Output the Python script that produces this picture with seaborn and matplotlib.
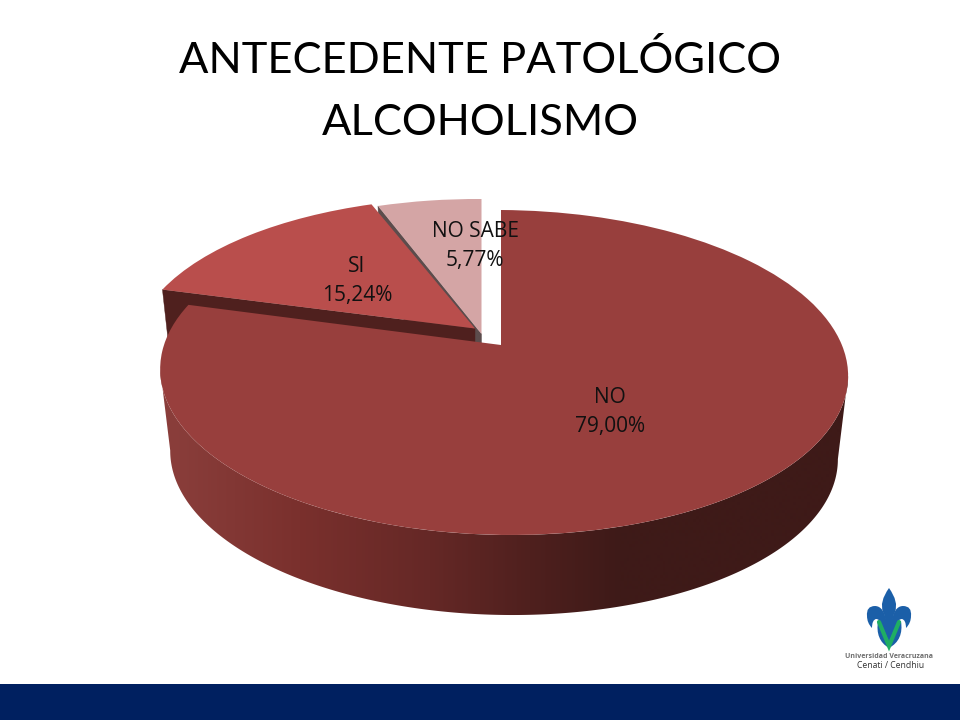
import numpy as np
import matplotlib
matplotlib.use("Agg")
import matplotlib.pyplot as plt
from matplotlib.transforms import Transform
from matplotlib.patches import PathPatch, Rectangle, Polygon
from matplotlib.path import Path
from matplotlib.colors import to_rgb
import seaborn as sns

# ---- data ----
categories = ["NO", "SI", "NO SABE"]
values = [79.00, 15.24, 5.77]
colors = ["#983F3D", "#B94E4C", "#D4A5A5"]
title_lines = ["ANTECEDENTE PATOLÓGICO", "ALCOHOLISMO"]

# ---- layout (pixels) ----
K, M = 0.169, -0.009          # perspective
TOP = dict(R=339.0, y0=345.0, a=-99.5)
LOW = dict(R=329.0, y0=428.0, a=-83.0)
SHIFTS = [(0.0, 0.0), (-26.0, -16.5), (-19.5, -11.0)]
V_SCALE = [1.0, 0.97, 1.0]
CX = 501.0
LABEL_POS = [(610, 412), (357, 281), (475, 246)]


def project(u, v, R, y0, a, dx=0.0, dy=0.0, vs=1.0):
    w = 1 + K * v + M * u
    return CX + dx + R * u / w, dy + y0 + vs * ((y0 + a * v) / w - y0)


class Persp(Transform):
    input_dims = output_dims = 2
    is_affine = False
    has_inverse = False

    def __init__(self, dx, dy, vs):
        super().__init__()
        self.dx, self.dy, self.vs = dx, dy, vs

    def transform_non_affine(self, pts):
        pts = np.asarray(pts, float)
        x, y = project(pts[:, 0], pts[:, 1], dx=self.dx, dy=self.dy, vs=self.vs, **TOP)
        return np.column_stack([x, y])


def rim(theta_deg, spec, shift=(0.0, 0.0), vs=1.0):
    t = np.radians(theta_deg)
    return project(np.cos(t), np.sin(t), dx=shift[0], dy=shift[1], vs=vs, **spec)


sns.set_theme(style="white")
plt.rcParams["font.family"] = ["Open Sans", "DejaVu Sans"]

fig = plt.figure(figsize=(9.6, 7.2), dpi=100, facecolor="white")
ax = fig.add_axes([0, 0, 1, 1])

wedges, _ = ax.pie(values, colors=colors, startangle=90, counterclock=False,
                   wedgeprops=dict(linewidth=0))

for w, (dx, dy), vs, z in zip(wedges, SHIFTS, V_SCALE, [10, 6, 4]):
    w.set_transform(Persp(dx, dy, vs) + ax.transData)
    w.set_zorder(z)
    w.set_clip_on(False)

# slice boundary angles (clockwise from the top)
shares = np.array(values) / np.sum(values)
bounds = 90 - 360 * np.concatenate([[0], np.cumsum(shares)])


def wall(theta, shift, vs, color, z):
    xt, yt = rim(theta, TOP, shift, vs)
    xl, yl = rim(theta, LOW, shift, vs)
    tip_t = project(0, 0, dx=shift[0], dy=shift[1], **TOP)
    tip_l = project(0, 0, dx=shift[0], dy=shift[1], **LOW)
    ax.add_patch(Polygon([(xt, yt), tip_t, tip_l, (xl, yl)], closed=True,
                         fc=color, ec=color, lw=0.3, zorder=z))


# cut walls of the pulled-out slices
wall(bounds[2], SHIFTS[2], V_SCALE[2], "#5C4C4C", 3)
wall(bounds[1], SHIFTS[1], V_SCALE[1], "#4F201E", 5)

# shaded outer wall of the large slice: one gradient clipped to its outline
grad_x = [170, 300, 430, 530, 620, 860]
grad_c = np.array([to_rgb(c) for c in
                   ["#8A3E3B", "#7A302D", "#652826", "#4F201E", "#3E1A18", "#3E1A18"]])
px = np.arange(150, 861)
strip = np.stack([np.interp(px, grad_x, grad_c[:, i]) for i in range(3)], axis=-1)[None, :, :]


def front_arc(spec):
    th = np.linspace(30, bounds[1], 600)
    x, _ = rim(th, spec)
    th = th[np.argmax(x):np.argmin(x) + 1]
    return rim(th, spec)


xt, yt = front_arc(TOP)
xl, yl = front_arc(LOW)
outline = Polygon(np.column_stack([np.r_[xt, xl[::-1]], np.r_[yt, yl[::-1]]]), closed=True,
                  fc="none", ec="none", transform=ax.transData)
ax.add_patch(outline)
img = ax.imshow(strip, extent=(150, 860, 720, 0), aspect="auto", zorder=8, interpolation="bilinear")
img.set_clip_path(outline)

ax.set_aspect("auto")
ax.set_xlim(0, 960)
ax.set_ylim(720, 0)
ax.axis("off")

# labels
for cat, val, (lx, ly) in zip(categories, values, LABEL_POS):
    ax.text(lx, ly, f"{cat}\n{val:.2f}".replace(".", ",") + "%", ha="center", va="center",
            fontsize=15, color="#111111", linespacing=1.55, zorder=20)

# title
ax.text(480, 60, title_lines[0], ha="center", va="center", fontsize=31.3,
        family=["Lato", "DejaVu Sans"], color="black", zorder=20)
ax.text(480, 123, title_lines[1], ha="center", va="center", fontsize=31.3,
        family=["Lato", "DejaVu Sans"], color="black", zorder=20)

# footer band
ax.add_patch(Rectangle((0, 683.5), 960, 36.5, fc="#002060", ec="none", zorder=1))

# university logo
blue, green = "#1B5FA8", "#1FAE63"
C3 = Path.CURVE3
LX = 889


def blob(points):
    codes, verts = zip(*points)
    ax.add_patch(PathPatch(Path(verts, codes), fc=blue, ec="none", zorder=20))


blob([
    (Path.MOVETO, (LX, 588)), (C3, (LX + 10, 602)), (C3, (LX + 6, 612)),
    (C3, (LX + 3, 618)), (C3, (LX + 3, 624)), (Path.LINETO, (LX - 3, 624)),
    (C3, (LX - 3, 618)), (C3, (LX - 6, 612)), (C3, (LX - 10, 602)), (C3, (LX, 588)),
    (Path.CLOSEPOLY, (LX, 588)),
])
for side in (-1, 1):
    blob([
        (Path.MOVETO, (LX + side * 2, 623)),
        (C3, (LX + side * 5, 606)), (C3, (LX + side * 14, 606)),
        (C3, (LX + side * 23, 606)), (C3, (LX + side * 22, 616)),
        (C3, (LX + side * 22, 623)), (C3, (LX + side * 17, 628)),
        (C3, (LX + side * 17, 620)), (C3, (LX + side * 13, 619)),
        (C3, (LX + side * 9, 619)), (C3, (LX + side * 9, 624)),
        (Path.LINETO, (LX + side * 2, 623)),
        (Path.CLOSEPOLY, (LX + side * 2, 623)),
    ])
blob([
    (Path.MOVETO, (LX - 11, 621)), (Path.LINETO, (LX + 12, 621)), (C3, (LX + 15, 640)),
    (C3, (LX, 648)), (C3, (LX - 14, 640)), (C3, (LX - 11, 621)),
    (Path.CLOSEPOLY, (LX - 11, 621)),
])
ax.plot([LX - 10, LX, LX + 10], [622, 646, 622], color=green, lw=3, solid_joinstyle="miter", zorder=21)
ax.plot([LX - 5, LX, LX + 5], [622, 636, 622], color="#1B5FA8", lw=2, solid_joinstyle="miter", zorder=22)

ax.text(889, 656.5, "Universidad Veracruzana", ha="center", va="center", fontsize=5,
        fontweight="bold", color="#6E6E6E", zorder=21)
ax.text(890.5, 666, "Cenati / Cendhiu", ha="center", va="center", fontsize=6.2,
        color="#333333", zorder=21)

fig.savefig("out.png", dpi=100, facecolor="white")
